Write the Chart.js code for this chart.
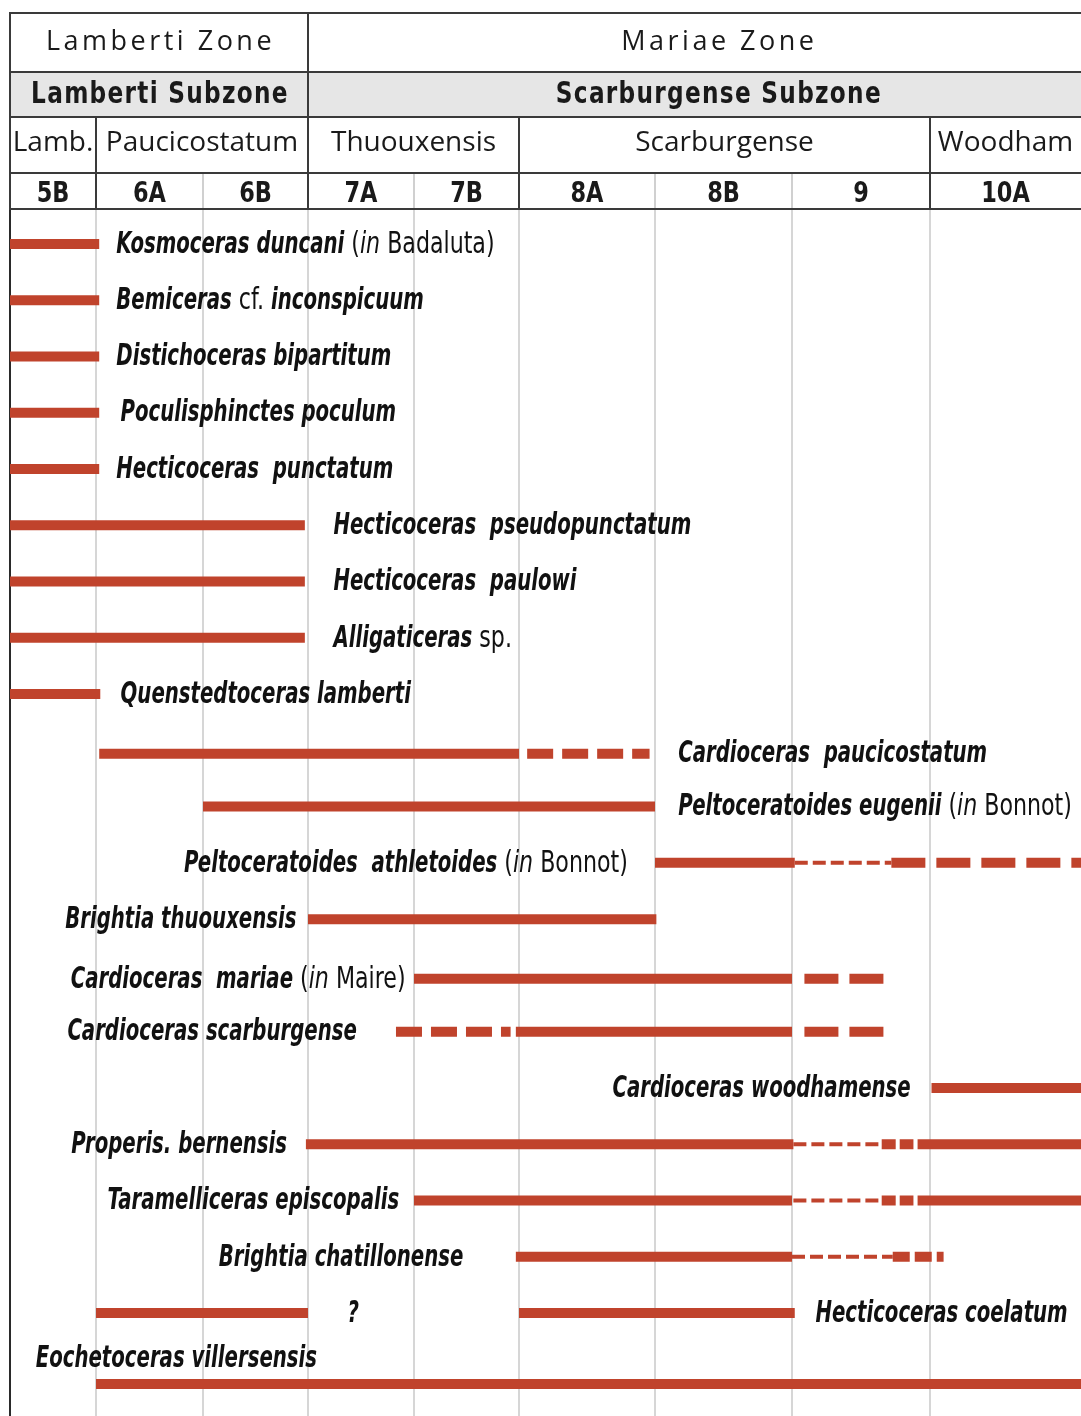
<!DOCTYPE html>
<html>
<head>
<meta charset="utf-8">
<script src="https://cdn.jsdelivr.net/npm/chart.js@4.4.1/dist/chart.umd.min.js"></script>
<style>
  html, body { margin: 0; padding: 0; background: #fff; }
  #wrap { width: 1081px; height: 1416px; }
</style>
</head>
<body>
<div id="wrap"><canvas id="RangeChart"></canvas></div>
<script>
// horizons and the relative width of each one (edges of the x scale)
const horizons = ['5B', '6A', '6B', '7A', '7B', '8A', '8B', '9', '10A'];
const horizonEdges = [0, 0.86, 1.93, 2.98, 4.04, 5.09, 6.45, 7.82, 9.20, 10.71];

// header bands, spans given in horizon units (edge index)
const zones = ['Lamberti Zone', 'Mariae Zone'];
const zoneSpans = [[0, 3], [3, 9.31]];
const subzones = ['Lamberti Subzone', 'Scarburgense Subzone'];
const subzoneSpans = [[0, 3], [3, 9.31]];
const biohorizons = ['Lamb.', 'Paucicostatum', 'Thuouxensis', 'Scarburgense', 'Woodham'];
const biohorizonSpans = [[0, 1], [1, 3], [3, 5], [5, 8], [8, 9]];

// taxa: i = italic name, r = roman, ri = roman italic
const taxa = [
  [['Kosmoceras duncani', 'i'], [' (', 'r'], ['in', 'ri'], [' Badaluta)', 'r']],
  [['Bemiceras', 'i'], [' cf. ', 'r'], ['inconspicuum', 'i']],
  [['Distichoceras bipartitum', 'i']],
  [['Poculisphinctes poculum', 'i']],
  [['Hecticoceras  punctatum', 'i']],
  [['Hecticoceras  pseudopunctatum', 'i']],
  [['Hecticoceras  paulowi', 'i']],
  [['Alligaticeras', 'i'], [' sp.', 'r']],
  [['Quenstedtoceras lamberti', 'i']],
  [['Cardioceras  paucicostatum', 'i']],
  [['Peltoceratoides eugenii', 'i'], [' (', 'r'], ['in', 'ri'], [' Bonnot)', 'r']],
  [['Peltoceratoides  athletoides', 'i'], [' (', 'r'], ['in', 'ri'], [' Bonnot)', 'r']],
  [['Brightia thuouxensis', 'i']],
  [['Cardioceras  mariae', 'i'], [' (', 'r'], ['in', 'ri'], [' Maire)', 'r']],
  [['Cardioceras scarburgense', 'i']],
  [['Cardioceras woodhamense', 'i']],
  [['Properis. bernensis', 'i']],
  [['Taramelliceras episcopalis', 'i']],
  [['Brightia chatillonense', 'i']],
  [['Hecticoceras coelatum', 'i']],
  [['Eochetoceras villersensis', 'i']]
];
const taxonRow = [0, 1, 2, 3, 4, 5, 6, 7, 8, 9.06, 10, 11, 12, 13.06, 14, 15, 16, 17, 18, 19, 20.26];

// ranges in horizon units: s solid, d/D thick dashed, t thin dashed, b/c short blocks
const ranges = [
  [[0, 1.03, 's']],
  [[0, 1.03, 's']],
  [[0, 1.03, 's']],
  [[0, 1.03, 's']],
  [[0, 1.03, 's']],
  [[0, 2.97, 's']],
  [[0, 2.97, 's']],
  [[0, 2.97, 's']],
  [[0, 1.04, 's']],
  [[1.03, 5, 's'], [5.06, 5.96, 'd']],
  [[2, 6, 's']],
  [[6, 7.02, 's'], [7.02, 7.72, 't'], [7.72, 9.2, 'D']],
  [[3, 6.01, 's']],
  [[4, 7, 's'], [7.09, 7.67, 'D']],
  [[3.83, 4.92, 'd'], [4.97, 7, 's'], [7.09, 7.67, 'D']],
  [[8.01, 9.2, 's']],
  [[2.98, 7.01, 's'], [7.01, 7.65, 't'], [7.65, 7.88, 'b'], [7.91, 9.2, 's']],
  [[4, 7, 's'], [7.01, 7.65, 't'], [7.65, 7.88, 'b'], [7.91, 9.2, 's']],
  [[4.97, 7, 's'], [7, 7.73, 't'], [7.73, 8.09, 'c']],
  [[1, 3, 's'], [5, 7.02, 's']],
  [[1, 9.2, 's']]
];

// where each name sits (horizon units) and which side it is anchored on
const labelAt = [1.19, 1.19, 1.19, 1.23, 1.19, 3.24, 3.24, 3.24, 1.23, 6.17, 6.17,
  5.80, 2.89, 3.92, 3.46, 7.86, 2.80, 3.86, 4.47, 7.17, 0.30];
const labelAlign = ['left', 'left', 'left', 'left', 'left', 'left', 'left', 'left', 'left', 'left', 'left',
  'right', 'right', 'right', 'right', 'right', 'right', 'right', 'right', 'left', 'left'];
const labelRow = [0, 1, 2, 3, 4, 5, 6, 7, 8, 9.06, 10, 11, 12, 13.06, 14, 15, 16, 17, 18, 19, 19.8];

const notes = ['?'];
const noteAt = [3.42];
const noteRow = [19];

const RED = '#c0432c';
const segStyles = {
  s: { w: 10, dash: [] },
  d: { w: 10, dash: [26, 9] },
  D: { w: 10, dash: [34, 11] },
  t: { w: 4, dash: [13, 5] },
  b: { w: 10, dash: [14, 4] },
  c: { w: 10, dash: [17, 5] }
};

// horizon index (with fraction) -> value on the x scale
function toX(h) {
  const n = horizonEdges.length - 1;
  let i = Math.min(Math.floor(h), n - 1);
  const w = horizonEdges[i + 1] - horizonEdges[i];
  return horizonEdges[i] + (h - i) * w;
}

const datasets = [];
ranges.forEach((segs, k) => {
  segs.forEach(seg => {
    const st = segStyles[seg[2]];
    datasets.push({
      data: [{ x: toX(seg[0]), y: taxonRow[k] }, { x: toX(seg[1]), y: taxonRow[k] }],
      borderColor: RED,
      borderWidth: st.w,
      borderDash: st.dash,
      borderCapStyle: 'butt',
      pointRadius: 0,
      fill: false,
      tension: 0
    });
  });
});

const FONT = '"Liberation Sans Narrow", "DejaVu Sans Condensed", "Noto Sans", sans-serif';
const partFont = {
  i: 'italic bold 30px ' + FONT,
  r: '30px ' + FONT,
  ri: 'italic 30px ' + FONT
};
// horizontal squeeze per style, to get the condensed look
const partSqueeze = { i: 0.73, r: 0.82, ri: 0.82 };

function drawRich(ctx, parts, x, y, align) {
  let total = 0;
  parts.forEach(p => { ctx.font = partFont[p[1]]; total += ctx.measureText(p[0]).width * partSqueeze[p[1]]; });
  let cx = align === 'right' ? x - total : x;
  parts.forEach(p => {
    const sq = partSqueeze[p[1]];
    ctx.font = partFont[p[1]];
    ctx.save();
    ctx.translate(cx, y);
    ctx.scale(sq, 1);
    ctx.fillText(p[0], 0, 0);
    ctx.restore();
    cx += ctx.measureText(p[0]).width * sq;
  });
}

// centred text, optionally squeezed horizontally
function drawCentered(ctx, text, x, y, sq) {
  ctx.save();
  ctx.translate(x, y);
  ctx.scale(sq, 1);
  ctx.fillText(text, 0, 0);
  ctx.restore();
}

const headerPlugin = {
  id: 'header',
  afterDraw(chart) {
    const ctx = chart.ctx;
    const xs = chart.scales.x;
    const px = h => xs.getPixelForValue(toX(h));
    const left = chart.chartArea.left;
    const right = chart.width;
    const top = chart.chartArea.top;
    // header rows, bottom up: horizon codes, biohorizons, subzones, zones
    const r4 = [top - 36, top];
    const r3 = [r4[0] - 56, r4[0]];
    const r2 = [r3[0] - 45, r3[0]];
    const r1 = [r2[0] - 59, r2[0]];

    ctx.save();
    ctx.fillStyle = '#e6e6e6';
    ctx.fillRect(left, r2[0], right - left, r2[1] - r2[0]);

    ctx.fillStyle = '#1a1a1a';
    ctx.textAlign = 'center';
    ctx.textBaseline = 'middle';

    ctx.font = '27px "Open Sans", sans-serif';
    ctx.letterSpacing = '3.5px';
    zones.forEach((z, i) => {
      drawCentered(ctx, z, (px(zoneSpans[i][0]) + px(zoneSpans[i][1])) / 2 + 1.5, (r1[0] + r1[1]) / 2, 1);
    });
    ctx.font = 'bold 30px ' + FONT;
    ctx.letterSpacing = '1.5px';
    subzones.forEach((z, i) => {
      drawCentered(ctx, z, (px(subzoneSpans[i][0]) + px(subzoneSpans[i][1])) / 2 + 1, (r2[0] + r2[1]) / 2 + 1, 0.86);
    });
    ctx.letterSpacing = '0px';
    ctx.font = '28px "Open Sans", sans-serif';
    biohorizons.forEach((b, i) => {
      drawCentered(ctx, b, (px(biohorizonSpans[i][0]) + px(biohorizonSpans[i][1])) / 2, (r3[0] + r3[1]) / 2 - 2, 1);
    });
    ctx.font = 'bold 29px ' + FONT;
    horizons.forEach((h, i) => {
      drawCentered(ctx, h, (px(i) + px(i + 1)) / 2, (r4[0] + r4[1]) / 2 + 3, 0.86);
    });

    // light separators inside the horizon row
    ctx.strokeStyle = '#d0d0d0';
    ctx.lineWidth = 2;
    horizons.forEach((h, i) => {
      if (i === 0) return;
      ctx.beginPath();
      ctx.moveTo(px(i), r4[0]);
      ctx.lineTo(px(i), r4[1]);
      ctx.stroke();
    });

    // dark frame lines
    ctx.strokeStyle = '#3a3a3a';
    [r1[0], r2[0], r3[0], r4[0], r4[1]].forEach(y => {
      ctx.beginPath();
      ctx.moveTo(left - 1, y);
      ctx.lineTo(right, y);
      ctx.stroke();
    });
    const vline = (x, y0, y1) => { ctx.beginPath(); ctx.moveTo(x, y0); ctx.lineTo(x, y1); ctx.stroke(); };
    vline(left, r1[0], r4[1]);
    zoneSpans.forEach(s => { if (s[0] > 0) vline(px(s[0]), r1[0], r2[1]); });
    biohorizonSpans.forEach(s => { if (s[0] > 0) vline(px(s[0]), r3[0], r4[1]); });
    ctx.restore();
  },
  afterDatasetsDraw(chart) {
    const ctx = chart.ctx;
    const xs = chart.scales.x;
    const ys = chart.scales.y;
    ctx.save();
    ctx.fillStyle = '#111';
    ctx.textBaseline = 'middle';
    ctx.textAlign = 'left';
    taxa.forEach((parts, k) => {
      drawRich(ctx, parts, xs.getPixelForValue(toX(labelAt[k])), ys.getPixelForValue(labelRow[k]) + 1, labelAlign[k]);
    });
    notes.forEach((n, k) => {
      drawRich(ctx, [[n, 'i']], xs.getPixelForValue(toX(noteAt[k])) - 5, ys.getPixelForValue(noteRow[k]) + 1, 'left');
    });
    ctx.restore();
  }
};

new Chart(document.getElementById('RangeChart'), {
  type: 'line',
  data: { datasets: datasets },
  options: {
    responsive: true,
    maintainAspectRatio: false,
    animation: false,
    layout: { padding: { top: 209, left: 10, right: 0, bottom: 0 } },
    scales: {
      x: {
        type: 'linear',
        min: horizonEdges[0],
        max: horizonEdges[horizonEdges.length - 1],
        afterBuildTicks: s => { s.ticks = horizonEdges.map(v => ({ value: v })); },
        afterFit: s => { s.height = 0; },
        ticks: { display: false },
        border: { display: false },
        grid: {
          drawTicks: false,
          lineWidth: 2,
          color: c => (c.index === 0 || c.index === horizonEdges.length - 1) ? 'rgba(0,0,0,0)' : '#d6d6d6'
        }
      },
      y: {
        type: 'linear',
        reverse: true,
        min: -0.62,
        max: 20.83,
        afterFit: s => { s.width = 0; },
        ticks: { display: false },
        grid: { display: false },
        border: { display: true, color: '#2a2a2a', width: 2 }
      }
    },
    plugins: {
      legend: { display: false },
      tooltip: { enabled: false }
    }
  },
  plugins: [headerPlugin]
});
</script>
</body>
</html>
